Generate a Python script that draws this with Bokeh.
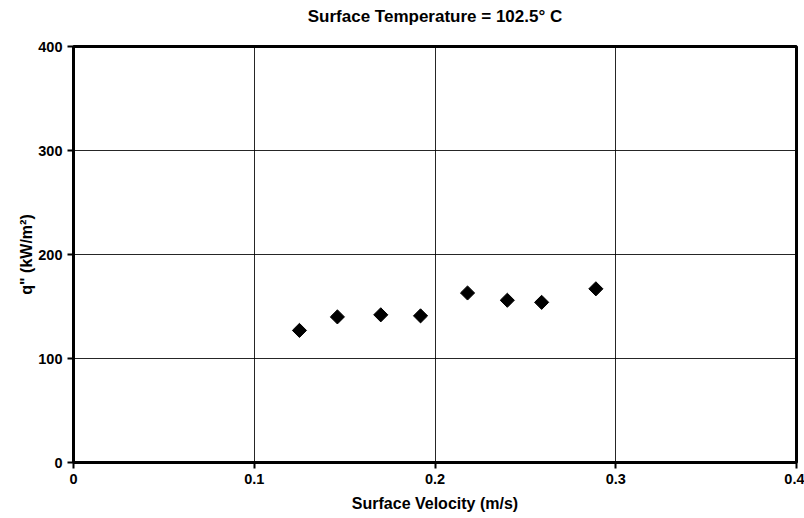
from bokeh.plotting import figure
from bokeh.models import Range1d, FixedTicker, ColumnDataSource, Title
from bokeh.embed import file_html
from bokeh.resources import INLINE
import numpy as np

# Measured heat flux vs. surface velocity
velocity = [0.125, 0.146, 0.170, 0.192, 0.218, 0.240, 0.259, 0.289]
heat_flux = [127, 140, 142, 141, 163, 156, 154, 167]

x_ticks = [0, 0.1, 0.2, 0.3, 0.4]
y_ticks = [0, 100, 200, 300, 400]

FONT = "Liberation Sans"

p = figure(
    width=804, height=518,
    x_range=Range1d(0, 0.4), y_range=Range1d(0, 400),
    output_backend="svg", toolbar_location=None,
    min_border_left=73, min_border_right=8,
    min_border_top=46, min_border_bottom=56,
    title="Surface Temperature = 102.5\u00b0 C",
)
p.background_fill_color = "white"
p.border_fill_color = "white"

# blank spacer between the frame and the heading
p.add_layout(Title(text=" ", text_font_size="1px", standoff=18), "above")

p.title.align = "center"
p.title.vertical_align = "bottom"
p.title.text_font = FONT
p.title.text_font_size = "17px"
p.title.text_font_style = "bold"
p.title.text_color = "black"
p.title.standoff = 0

p.outline_line_color = "black"
p.outline_line_width = 3

for ax in (p.xaxis[0], p.yaxis[0]):
    ax.axis_line_color = "black"
    ax.axis_line_width = 3
    ax.major_tick_line_color = "black"
    ax.major_tick_line_width = 2
    ax.major_tick_in = 0
    ax.major_tick_out = 6
    ax.minor_tick_line_color = None
    ax.major_label_text_font = FONT
    ax.major_label_text_font_size = "14.5px"
    ax.major_label_text_font_style = "bold"
    ax.major_label_text_color = "black"
    ax.axis_label_text_font = FONT
    ax.axis_label_text_font_size = "16px"
    ax.axis_label_text_font_style = "bold"
    ax.axis_label_text_color = "black"

p.xaxis.ticker = FixedTicker(ticks=x_ticks)
p.yaxis.ticker = FixedTicker(ticks=y_ticks)
p.xaxis.major_label_overrides = {0: "0", 0.1: "0.1", 0.2: "0.2", 0.3: "0.3", 0.4: "0.4"}
p.xaxis.axis_label = "Surface Velocity (m/s)"
p.yaxis.axis_label = "q\" (kW/m\u00b2)"
p.xaxis.axis_label_standoff = 8
p.yaxis.axis_label_standoff = 0

p.grid.grid_line_color = "black"
p.grid.grid_line_width = 1
p.grid.grid_line_alpha = 0.85

src = ColumnDataSource(data=dict(x=velocity, y=heat_flux))
p.scatter("x", "y", source=src, marker="square", size=10, angle=np.pi / 4,
          fill_color="black", line_color="black", line_width=1)

open("out.html", "w").write(file_html(p, INLINE))
